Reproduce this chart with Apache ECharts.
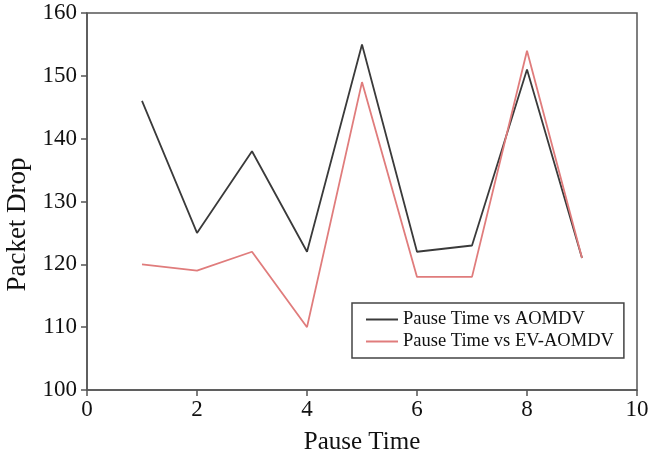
<!DOCTYPE html>
<html><head><meta charset="utf-8">
<script src="https://cdn.jsdelivr.net/npm/echarts@6/dist/echarts.min.js"></script>
<style>html,body{margin:0;padding:0;background:#fff}#c{width:650px;height:460px}</style>
</head><body><div id="c"></div>
<script>
const pauseTime = [1, 2, 3, 4, 5, 6, 7, 8, 9];
const aomdv = [146, 125, 138, 122, 155, 122, 123, 151, 121];
const evAomdv = [120, 119, 122, 110, 149, 118, 118, 154, 121];
const seriesNames = ['Pause Time vs AOMDV', 'Pause Time vs EV-AOMDV'];

const font = 'Liberation Serif';
const chart = echarts.init(document.getElementById('c'));
chart.setOption({
  animation: false,
  backgroundColor: '#fff',
  grid: {left: 87, right: 13, top: 13, bottom: 70, show: true, borderColor: '#555', borderWidth: 1.5,
         containLabel: false, outerBoundsMode: 'none'},
  legend: {
    orient: 'vertical', left: 352, top: 303,
    borderColor: '#444', borderWidth: 1.5, padding: [7, 10, 7, 14],
    icon: 'rect', itemWidth: 32, itemHeight: 2, itemGap: 3,
    textStyle: {fontFamily: font, fontSize: 18.5, color: '#111'},
    data: seriesNames
  },
  xAxis: {
    type: 'value', min: 0, max: 10, interval: 2,
    name: 'Pause Time', nameLocation: 'middle', nameGap: 40,
    nameTextStyle: {fontFamily: font, fontSize: 25, color: '#111'},
    axisLine: {lineStyle: {color: '#555', width: 1.5}},
    axisTick: {inside: false, length: 6, lineStyle: {color: '#555', width: 1.5}},
    axisLabel: {fontFamily: font, fontSize: 23, color: '#111', margin: 8},
    splitLine: {show: false}
  },
  yAxis: {
    type: 'value', min: 100, max: 160, interval: 10,
    name: 'Packet Drop', nameLocation: 'middle', nameGap: 54,
    nameTextStyle: {fontFamily: font, fontSize: 27, color: '#111', padding: [0, 46, 0, 0]},
    axisLine: {lineStyle: {color: '#555', width: 1.5}},
    axisTick: {inside: false, length: 6, lineStyle: {color: '#555', width: 1.5}},
    axisLabel: {fontFamily: font, fontSize: 23, color: '#111', margin: 10},
    splitLine: {show: false}
  },
  series: [
    {name: seriesNames[0], type: 'line', symbol: 'none', color: '#3a3a3a',
     lineStyle: {width: 1.8, color: '#3a3a3a'},
     data: pauseTime.map((x, i) => [x, aomdv[i]])},
    {name: seriesNames[1], type: 'line', symbol: 'none', color: '#e07c7c',
     lineStyle: {width: 1.8, color: '#e07c7c'},
     data: pauseTime.map((x, i) => [x, evAomdv[i]])}
  ]
});
</script></body></html>
